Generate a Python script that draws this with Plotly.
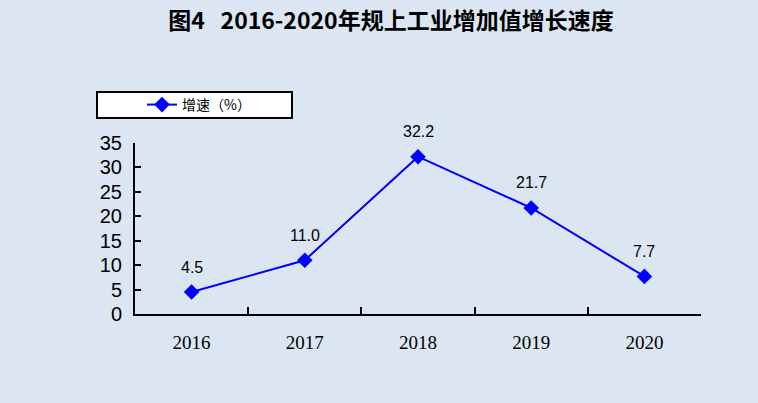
import plotly.graph_objects as go

years = ["2016", "2017", "2018", "2019", "2020"]
growth = [4.5, 11.0, 32.2, 21.7, 7.7]
labels = ["4.5", "11.0", "32.2", "21.7", "7.7"]
y_ticks = [0, 5, 10, 15, 20, 25, 30, 35]
series_name = "增速（%）"
title_text = "<b>图4   2016-2020年规上工业增加值增长速度</b>"

W, H = 758, 403
L, R, T, B = 135, 57, 143, 89
pw, ph = W - L - R, H - T - B

def px_x(px):
    return (px - L) / pw

def px_y(py):
    return (H - B - py) / ph

fig = go.Figure()
fig.add_trace(go.Scatter(
    x=years, y=growth, name=series_name, mode="lines+markers",
    line=dict(color="#0000FF", width=2),
    marker=dict(symbol="diamond", size=12, color="#0000FF"),
))

for i, (v, t) in enumerate(zip(growth, labels)):
    fig.add_annotation(x=i, y=v, text=t, showarrow=False, yshift=25,
                       font=dict(family="Arial, Liberation Sans", size=16, color="#000000"))

fig.add_shape(type="rect", xref="paper", yref="paper",
              x0=px_x(97), x1=px_x(292), y0=px_y(118), y1=px_y(92),
              line=dict(color="#000000", width=2), fillcolor="#FFFFFF", layer="below")

fig.update_layout(
    width=W, height=H,
    margin=dict(l=L, r=R, t=T, b=B),
    paper_bgcolor="#DCE6F2", plot_bgcolor="#DCE6F2",
    title=dict(text=title_text, x=391 / W, xanchor="center", y=1 - 21 / H, yanchor="middle",
               font=dict(family="Noto Sans CJK SC, Arial", size=23, color="#000000")),
    showlegend=True,
    legend=dict(x=px_x(142), y=px_y(105), xanchor="left", yanchor="middle",
                bgcolor="rgba(0,0,0,0)", borderwidth=0,
                font=dict(family="Noto Sans CJK SC", size=14, color="#000000")),
    xaxis=dict(type="category", tickson="boundaries", ticks="inside", ticklen=7,
               tickwidth=2, tickcolor="#000000", showline=True, linecolor="#000000",
               linewidth=2, showgrid=False, zeroline=False, range=[-0.5, 4.5],
               ticklabelstandoff=10,
               tickfont=dict(family="Liberation Serif, Times New Roman", size=19, color="#000000")),
    yaxis=dict(range=[0, 35], tickvals=y_ticks, ticks="inside", ticklen=6, tickwidth=2,
               tickcolor="#000000", showline=True, linecolor="#000000", linewidth=2,
               showgrid=False, zeroline=False, ticklabelstandoff=7,
               tickfont=dict(family="Arial, Liberation Sans", size=20, color="#000000")),
)

fig.write_html("out.html", config={"displayModeBar": False},
               post_script="document.body.style.margin='0';")
